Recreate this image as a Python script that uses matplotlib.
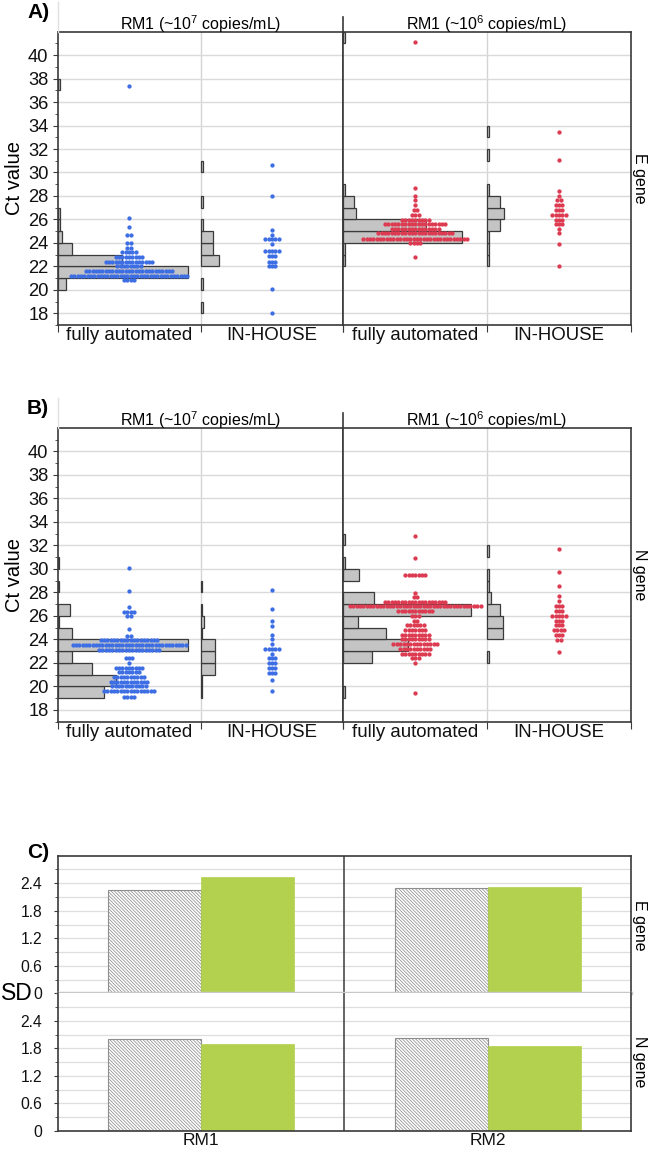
import numpy as np
import matplotlib
matplotlib.use('Agg')
import matplotlib.pyplot as plt
from matplotlib.lines import Line2D
from matplotlib.ticker import FixedLocator

plt.rcParams['font.family'] = ['Liberation Sans', 'DejaVu Sans']
plt.rcParams['mathtext.fontset'] = 'custom'
plt.rcParams['mathtext.rm'] = 'Liberation Sans'
plt.rcParams['mathtext.it'] = 'Liberation Sans:italic'
plt.rcParams['hatch.linewidth'] = 0.55

# ---------------- data ----------------
GROUPS = ['fully automated', 'IN-HOUSE']

# E gene, RM1 (~10^7 copies/mL)
E7_FA_CT = [37.35, 26.11, 25.34, 24.69, 23.97, 23.6, 23.22, 22.82, 22.41, 22.02, 21.62, 21.2, 20.82]
E7_FA_N = [1, 1, 1, 2, 2, 2, 5, 9, 15, 8, 27, 36, 4]
E7_FA_HB = [20, 21, 22, 23, 24, 25, 26, 37]
E7_FA_HC = [4, 63, 31, 7, 2, 1, 1, 1]
E7_IH_CT = [30.63, 27.96, 25.14, 24.69, 24.29, 23.92, 23.29, 22.84, 22.41, 22.05, 20.05, 18.05]
E7_IH_N = [1, 1, 1, 1, 5, 1, 5, 3, 3, 3, 1, 1]
E7_IH_HB = [18, 20, 22, 23, 24, 25, 27, 30]
E7_IH_HC = [1, 1, 9, 6, 6, 1, 1, 1]

# E gene, RM1 (~10^6 copies/mL)
E6_FA_CT = [41.14, 28.67, 27.98, 27.62, 27.22, 26.76, 26.36, 25.97, 25.6, 25.2, 24.8, 24.37, 24.02, 22.81]
E6_FA_N = [1, 1, 1, 1, 1, 2, 3, 9, 19, 15, 23, 32, 4, 1]
E6_FA_HB = [22, 23, 24, 25, 26, 27, 28, 41]
E6_FA_HC = [1, 1, 57, 40, 6, 5, 1, 1]
E6_IH_CT = [33.45, 31.03, 28.41, 27.98, 27.62, 27.22, 26.82, 26.4, 25.98, 25.63, 25.2, 24.82, 23.92, 22.02]
E6_IH_N = [1, 1, 1, 1, 2, 3, 3, 5, 3, 3, 1, 1, 1, 1]
E6_IH_HB = [22, 23, 24, 25, 26, 27, 28, 31, 33]
E6_IH_HC = [1, 1, 1, 6, 8, 6, 1, 1, 1]

# N gene, RM1 (~10^7 copies/mL)
N7_FA_CT = [30.12, 28.12, 26.77, 26.37, 25.96, 24.85, 24.29, 23.92, 23.5, 23.1, 22.41, 22.0,
            21.6, 21.22, 20.82, 20.4, 20.0, 19.6, 19.06]
N7_FA_N = [1, 1, 1, 4, 2, 1, 2, 18, 35, 19, 3, 1, 9, 7, 10, 12, 11, 16, 4]
N7_FA_HB = [19, 20, 21, 22, 23, 24, 25, 26, 28, 30]
N7_FA_HC = [26, 33, 19, 8, 73, 8, 1, 7, 1, 1]
N7_IH_CT = [28.24, 26.62, 25.53, 25.13, 24.39, 24.03, 23.63, 23.2, 22.8, 22.42, 22.02, 21.57,
            21.18, 20.58, 19.62]
N7_IH_N = [1, 1, 1, 1, 1, 1, 1, 5, 1, 3, 3, 3, 3, 1, 1]
N7_IH_HB = [19, 20, 21, 22, 23, 24, 25, 26, 28]
N7_IH_HC = [1, 1, 8, 8, 8, 1, 2, 1, 1]

# N gene, RM1 (~10^6 copies/mL)
N6_FA_CT = [32.84, 30.92, 29.5, 27.99, 27.6, 27.22, 26.81, 26.42, 26.02, 25.6, 25.2, 24.8,
            24.4, 24.0, 23.59, 23.2, 22.8, 22.39, 22.0, 19.45]
N6_FA_N = [1, 1, 7, 1, 2, 19, 40, 11, 3, 2, 6, 7, 9, 9, 14, 10, 9, 3, 1, 1]
N6_FA_HB = [19, 22, 23, 24, 25, 26, 27, 29, 30, 32]
N6_FA_HC = [1, 16, 36, 24, 8, 71, 17, 9, 1, 1]
N6_IH_CT = [31.74, 29.74, 28.52, 27.73, 27.24, 26.81, 26.41, 25.98, 25.59, 25.19, 24.79,
            24.39, 23.99, 22.91]
N6_IH_N = [1, 1, 1, 1, 1, 3, 3, 5, 3, 3, 4, 3, 2, 1]
N6_IH_HB = [22, 24, 25, 26, 27, 28, 29, 31]
N6_IH_HC = [1, 9, 9, 7, 2, 1, 1, 1]

# Panel C: SD
SD_CATS = ['RM1', 'RM2']
SD_E_HATCH = [2.26, 2.29]
SD_E_GREEN = [2.53, 2.32]
SD_N_HATCH = [2.01, 2.02]
SD_N_GREEN = [1.90, 1.86]

Y_TICKS = list(range(18, 41, 2))
SD_TICKS = [0, 0.6, 1.2, 1.8, 2.4]

# ---------------- layout ----------------
W, H = 649, 1150
fig = plt.figure(figsize=(W / 100, H / 100), dpi=100)


def rect(l, t, r, b):
    return [l / W, 1 - b / H, (r - l) / W, (b - t) / H]


def fline(x0, y0, x1, y1, color, lw):
    fig.add_artist(Line2D([x0 / W, x1 / W], [1 - y0 / H, 1 - y1 / H], color=color, lw=lw,
                          transform=fig.transFigure))


def ftext(x, y, s, **kw):
    fig.text(x / W, 1 - y / H, s, **kw)


SPINE = '#3a3a3a'
GRID = '#dadada'
BLUE = '#3d6ee4'
RED = '#dc3b51'
HISTFC = '#c4c4c4'
HISTEC = '#3a3a3a'
DOT_DX = 3.33 / 143.0
XL, XM, XR = 57.7, 343.3, 631


def setup_ax(ax, left):
    ax.set_xlim(0, 2)
    ax.set_ylim(17, 42)
    ax.set_yticks(Y_TICKS)
    ax.yaxis.set_minor_locator(FixedLocator(range(17, 42)))
    ax.grid(axis='y', which='major', color=GRID, lw=1.0, zorder=0)
    ax.axvline(1, color='#d4d4d4', lw=1.0, zorder=1)
    ax.set_xticks([0, 1, 2])
    ax.set_xticklabels(['', '', ''])
    ax.xaxis.set_minor_locator(FixedLocator([0.5, 1.5]))
    ax.set_xticklabels(GROUPS, minor=True, fontsize=13.4)
    ax.tick_params(axis='x', which='major', length=5, color=SPINE, direction='out')
    ax.tick_params(axis='x', which='minor', length=0, pad=1.5, labelcolor='#111111')
    for s in ax.spines.values():
        s.set_color(SPINE)
        s.set_linewidth(1.2)
    if left:
        ax.tick_params(axis='y', which='major', length=3.5, pad=3.2, labelsize=13.2,
                       color=SPINE, labelcolor='#111111')
        ax.tick_params(axis='y', which='minor', length=2, color=SPINE)
    else:
        ax.tick_params(axis='y', which='both', length=0, labelleft=False)


def draw_half(ax, color, groups, hist_scale):
    for i, (ct, n, hb, hc) in enumerate(groups):
        ax.barh(np.array(hb) + 0.5, np.array(hc) * hist_scale, height=1.0, left=i,
                color=HISTFC, edgecolor=HISTEC, linewidth=0.9, zorder=2)
        xs, ys = [], []
        for c, k in zip(ct, n):
            off = (np.arange(k) - (k - 1) / 2.0) * DOT_DX
            xs.extend(i + 0.5 + off)
            ys.extend([c] * k)
        ax.scatter(xs, ys, s=9.5, color=color, linewidths=0, zorder=3)


def ct_panel(top, bot, left_groups, right_groups, panel_max, label, gene):
    scale = 0.91 / panel_max
    ax1 = fig.add_axes(rect(XL, top, XM, bot))
    ax2 = fig.add_axes(rect(XM, top, XR, bot))
    setup_ax(ax1, True)
    setup_ax(ax2, False)
    draw_half(ax1, BLUE, left_groups, scale)
    draw_half(ax2, RED, right_groups, scale)
    mid = (top + bot) / 2
    ftext(200.5, top - 8, 'RM1 (~10$^{7}$ copies/mL)', ha='center', va='center', fontsize=11.5)
    ftext(487.0, top - 8, 'RM1 (~10$^{6}$ copies/mL)', ha='center', va='center', fontsize=11.5)
    ftext(14.5, mid, 'Ct value', rotation=90, ha='center', va='center', fontsize=14.5)
    ftext(640, mid, gene, rotation=-90, ha='center', va='center', fontsize=11.5)
    ftext(27, top - 19, label, ha='left', va='center', fontsize=15, fontweight='bold')
    fline(XM, top - 15, XM, top, SPINE, 1.2)
    fline(XL, top - 30, XL, top, '#e0e0e0', 1.0)


ct_panel(31.7, 325.0,
         [(E7_FA_CT, E7_FA_N, E7_FA_HB, E7_FA_HC), (E7_IH_CT, E7_IH_N, E7_IH_HB, E7_IH_HC)],
         [(E6_FA_CT, E6_FA_N, E6_FA_HB, E6_FA_HC), (E6_IH_CT, E6_IH_N, E6_IH_HB, E6_IH_HC)],
         63, 'A)', 'E gene')
ct_panel(428.0, 721.7,
         [(N7_FA_CT, N7_FA_N, N7_FA_HB, N7_FA_HC), (N7_IH_CT, N7_IH_N, N7_IH_HB, N7_IH_HC)],
         [(N6_FA_CT, N6_FA_N, N6_FA_HB, N6_FA_HC), (N6_IH_CT, N6_IH_N, N6_IH_HB, N6_IH_HC)],
         73, 'B)', 'N gene')

# ---------------- panel C ----------------
GREEN = '#b3d14f'
BW = 0.324
x = np.arange(len(SD_CATS))


def sd_ax(top, bot, hatch_vals, green_vals, upper):
    ax = fig.add_axes(rect(XL, top, XR, bot))
    ax.set_xlim(-0.5, 1.5)
    ax.set_ylim(0, 3.0)
    ax.set_yticks(SD_TICKS)
    ax.set_yticklabels(['0', '0.6', '1.2', '1.8', '2.4'])
    ax.yaxis.set_minor_locator(FixedLocator([0.3, 0.9, 1.5, 2.1, 2.7]))
    ax.grid(axis='y', which='both', color='#dedede', lw=0.9, zorder=0)
    ax.bar(x - BW / 2, hatch_vals, BW, color='white', edgecolor='#8e8e8e',
           hatch='\\' * 10, linewidth=0.8, zorder=2)
    ax.bar(x + BW / 2, green_vals, BW, color=GREEN, edgecolor=GREEN, linewidth=0.5, zorder=2)
    ax.axvline(0.5, color=SPINE, lw=1.1, zorder=3)
    for s in ax.spines.values():
        s.set_color(SPINE)
        s.set_linewidth(1.2)
    ax.tick_params(axis='y', which='major', length=3, pad=8, labelsize=11.3, color=SPINE,
                   labelcolor='#111111')
    ax.tick_params(axis='y', which='minor', length=2, color=SPINE)
    ax.set_xticks(x)
    if upper:
        ax.spines['bottom'].set_color('#c8c8c8')
        ax.spines['bottom'].set_linewidth(2.5)
        ax.spines['bottom'].set_zorder(4)
        ax.tick_params(axis='x', length=0, labelbottom=False)
    else:
        ax.spines['top'].set_visible(False)
        ax.set_xticklabels(SD_CATS)
        ax.tick_params(axis='x', length=0, pad=1.5, labelsize=12.5, labelcolor='#111111')
    return ax


sd_ax(855.7, 993.3, SD_E_HATCH, SD_E_GREEN, True)
sd_ax(993.3, 1131.0, SD_N_HATCH, SD_N_GREEN, False)
ftext(16.5, 994, 'SD', ha='center', va='center', fontsize=16.5)
ftext(640, 925, 'E gene', rotation=-90, ha='center', va='center', fontsize=11.5)
ftext(640, 1062, 'N gene', rotation=-90, ha='center', va='center', fontsize=11.5)
ftext(27, 852, 'C)', ha='left', va='center', fontsize=15, fontweight='bold')

fig.savefig('out.png', dpi=100)
